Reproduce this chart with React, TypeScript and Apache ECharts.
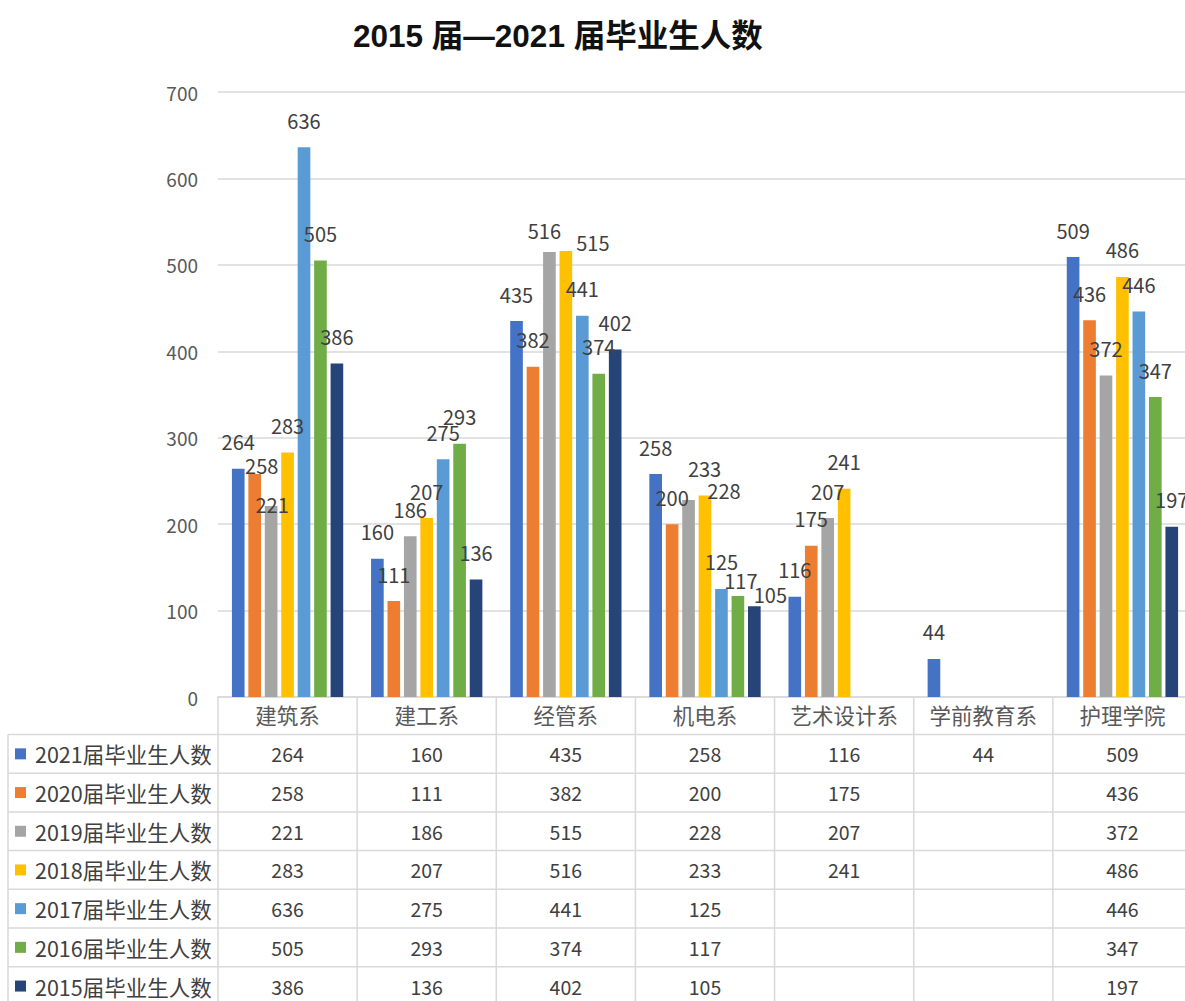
import React, { useEffect, useRef } from "react";
import * as echarts from "echarts";

const categories = ["建筑系", "建工系", "经管系", "机电系", "艺术设计系", "学前教育系", "护理学院"];
const seriesNames = [
  "2021届毕业生人数",
  "2020届毕业生人数",
  "2019届毕业生人数",
  "2018届毕业生人数",
  "2017届毕业生人数",
  "2016届毕业生人数",
  "2015届毕业生人数",
];
const v2021 = [264, 160, 435, 258, 116, 44, 509];
const v2020 = [258, 111, 382, 200, 175, null, 436];
const v2019 = [221, 186, 515, 228, 207, null, 372];
const v2018 = [283, 207, 516, 233, 241, null, 486];
const v2017 = [636, 275, 441, 125, null, null, 446];
const v2016 = [505, 293, 374, 117, null, null, 347];
const v2015 = [386, 136, 402, 105, null, null, 197];
// labels printed above the bars in the source (2019/2018 labels are swapped in two groups there)
const labels2019 = [221, 186, 516, 233, 207, null, 372];
const labels2018 = [283, 207, 515, 228, 241, null, 486];

const values = [v2021, v2020, v2019, v2018, v2017, v2016, v2015];
const barLabels = [v2021, v2020, labels2019, labels2018, v2017, v2016, v2015];
const colors = ["#4472C4", "#ED7D31", "#A5A5A5", "#FFC000", "#5B9BD5", "#70AD47", "#264478"];

// style: hand-nudged label offsets (series index - category index -> [dx, dy] px)
const labelNudges: Record<string, [number, number]> = {
  "1-0": [7, 18],
  "2-0": [1, 25],
  "2-2": [-5, 6],
  "3-2": [27, 18],
  "2-3": [16, -4],
  "3-3": [19, 22],
  "5-3": [3, 12],
  "6-3": [16, 15],
};

const yMin = 0;
const yMax = 700;
const yStep = 100;

const FONT = '"Noto Sans CJK SC", "Noto Sans", sans-serif';
const TITLE_FONT = '"Liberation Sans", "Noto Sans CJK SC", sans-serif';
const LINE = "#d9d9d9";
const TEXT = "#404040";

export default function App() {
  const ref = useRef<HTMLDivElement>(null);

  useEffect(() => {
    if (!ref.current) return;
    const chart = echarts.init(ref.current, undefined, { renderer: "svg" });
    chart.setOption({
      animation: false,
      textStyle: { fontFamily: FONT },
      title: {
        text: "2015 届—2021 届毕业生人数",
        left: 348,
        top: 15,
        textStyle: { fontFamily: TITLE_FONT, fontSize: 31.5, fontWeight: "bold", color: "#111" },
      },
      grid: { left: 218, right: 8, top: 92, bottom: 304 },
      xAxis: {
        type: "category",
        data: categories,
        axisLine: { lineStyle: { color: LINE, width: 1.5 } },
        axisTick: { show: false },
        axisLabel: { interval: 0, fontSize: 21.5, color: "#595959", margin: 7, fontFamily: FONT },
      },
      yAxis: {
        type: "value",
        min: yMin,
        max: yMax,
        interval: yStep,
        axisLine: { show: false },
        axisTick: { show: false },
        splitLine: { lineStyle: { color: LINE, width: 1.5 } },
        axisLabel: { fontSize: 19, color: "#595959", margin: 20, fontFamily: FONT },
      },
      series: values.map((arr, si) => ({
        type: "bar",
        name: seriesNames[si],
        data: arr.map((v, ci) => {
          const nudge = labelNudges[`${si}-${ci}`];
          if (v == null) return "-";
          return nudge ? { value: v, label: { offset: nudge } } : v;
        }),
        itemStyle: { color: colors[si] },
        barGap: "30%",
        barCategoryGap: "20%",
        label: {
          show: true,
          position: "top",
          distance: 17,
          fontSize: 20,
          color: TEXT,
          fontFamily: FONT,
          formatter: (p: any) => {
            const lv = barLabels[si][p.dataIndex];
            return lv == null ? "" : String(lv);
          },
        },
      })),
    });

    // data table under the plot, positioned from the axes' scales
    const c0 = chart.convertToPixel({ xAxisIndex: 0 }, 0) as number;
    const c1 = chart.convertToPixel({ xAxisIndex: 0 }, 1) as number;
    const bw = c1 - c0;
    const y0 = chart.convertToPixel({ yAxisIndex: 0 }, 0) as number;
    const headerH = 37.5;
    const rowH = 38.7;
    const tableTop = y0 + headerH;
    const tableLeft = 8;
    const leftEdge = c0 - bw / 2;
    const rightEdge = leftEdge + bw * categories.length;
    const bottom = 1001;
    const g: any[] = [];
    for (let i = 0; i <= categories.length; i++) {
      const x = leftEdge + i * bw;
      g.push({
        type: "line",
        silent: true,
        shape: { x1: x, y1: y0, x2: x, y2: bottom },
        style: { stroke: LINE, lineWidth: 1.5 },
      });
    }
    g.push({
      type: "line",
      silent: true,
      shape: { x1: tableLeft, y1: tableTop, x2: tableLeft, y2: bottom },
      style: { stroke: LINE, lineWidth: 1.5 },
    });
    for (let k = 0; k < seriesNames.length; k++) {
      const yt = tableTop + k * rowH;
      g.push({
        type: "line",
        silent: true,
        shape: { x1: tableLeft, y1: yt, x2: rightEdge, y2: yt },
        style: { stroke: LINE, lineWidth: 1.5 },
      });
      const cy = yt + rowH / 2;
      g.push({
        type: "rect",
        silent: true,
        shape: { x: 15, y: cy - 5.5, width: 11, height: 11 },
        style: { fill: colors[k] },
      });
      g.push({
        type: "text",
        silent: true,
        x: 35,
        y: cy,
        style: {
          text: seriesNames[k],
          fontSize: 21.5,
          fontFamily: FONT,
          fill: TEXT,
          textAlign: "left",
          textVerticalAlign: "middle",
        },
      });
      values[k].forEach((v, ci) => {
        if (v == null) return;
        const cx = chart.convertToPixel({ xAxisIndex: 0 }, ci) as number;
        g.push({
          type: "text",
          silent: true,
          x: cx,
          y: cy,
          style: {
            text: String(v),
            fontSize: 19.5,
            fontFamily: FONT,
            fill: TEXT,
            textAlign: "center",
            textVerticalAlign: "middle",
          },
        });
      });
    }
    chart.setOption({ graphic: g });

    return () => chart.dispose();
  }, []);

  return (
    <div
      style={{
        position: "fixed",
        left: 0,
        top: 0,
        width: 1185,
        height: 1001,
        overflow: "hidden",
        background: "#fff",
      }}
    >
      <div ref={ref} style={{ width: 1200, height: 1001 }} />
    </div>
  );
}
